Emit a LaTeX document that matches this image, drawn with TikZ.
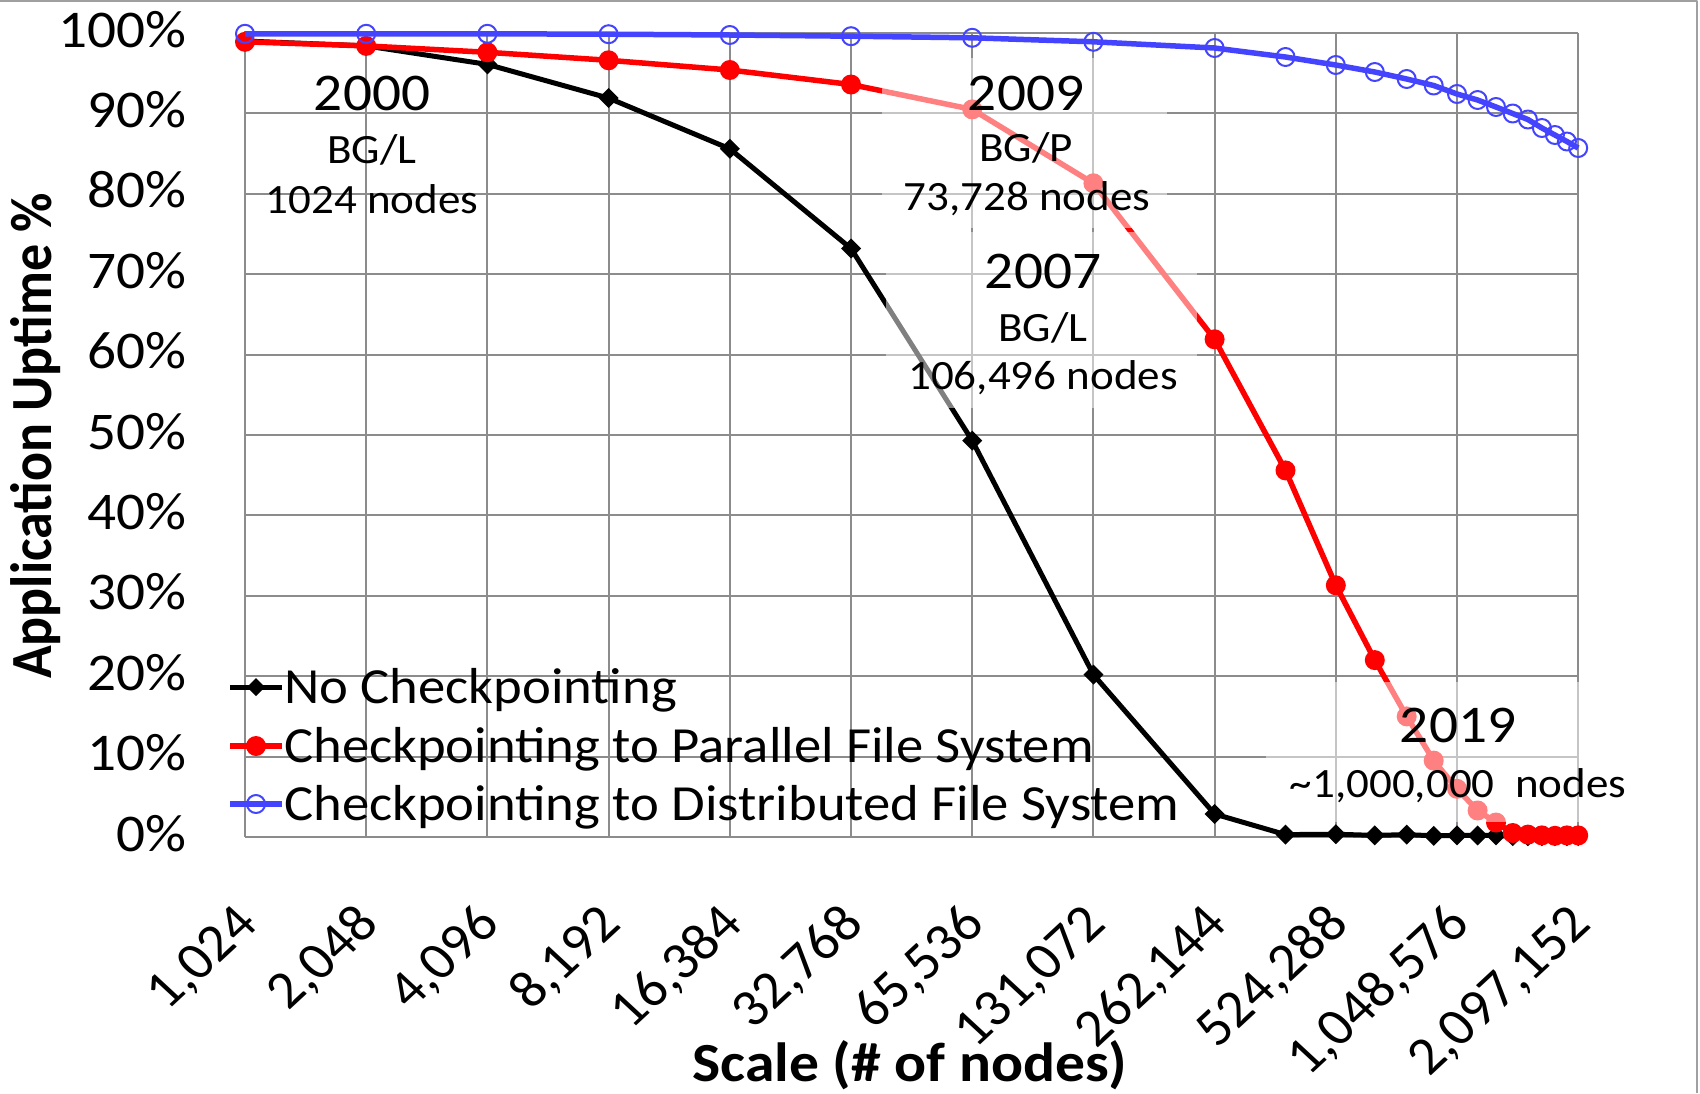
\documentclass[tikz,border=0pt]{standalone}
\usepackage{fontspec}
\setmainfont{Carlito}
\definecolor{xblue}{RGB}{68,68,255}
\definecolor{gridc}{RGB}{140,140,140}
\definecolor{framec}{RGB}{160,160,160}
\begin{document}
\begin{tikzpicture}[x=1pt,y=-1pt,line join=round,
  gridline/.style={draw=gridc,line width=2pt},
  txt/.style={inner sep=0pt,xscale=1.08,anchor=base},
  bigf/.style={font=\fontsize{53}{60}\selectfont},
  smallf/.style={font=\fontsize{41.7}{48}\selectfont},
  lgdf/.style={font=\fontsize{50.6}{58}\selectfont},
  tickf/.style={font=\fontsize{53}{60}\selectfont},
  titlef/.style={font=\fontsize{54}{60}\selectfont\bfseries},
  xtitlef/.style={font=\fontsize{55.2}{60}\selectfont\bfseries},
  blackser/.style={draw=black,line width=5pt},
  redser/.style={draw=red,line width=5.5pt},
  blueser/.style={draw=xblue,line width=5.5pt},
  veil/.style={fill=white,fill opacity=0.5}]
\useasboundingbox (0,0) rectangle (1700,1093);
\fill[white] (0,0) rectangle (1700,1093);
\draw[framec,line width=2pt] (0,1) -- (1697,1) -- (1697,1093);
% grid
\foreach \gy in {33,113.4,193.8,274.2,354.6,435,515.4,595.8,676.2,756.6,837}
  \draw[gridline] (245,\gy) -- (1578.2,\gy);
\foreach \gx in {245,366.2,487.4,608.6,729.8,851,972.2,1093.4,1214.6,1335.8,1457,1578.2}
  \draw[gridline] (\gx,33) -- (\gx,837);
% y tick labels
\foreach \gy/\lab in {33/100,113.4/90,193.8/80,274.2/70,354.6/60,435/50,515.4/40,595.8/30,676.2/20,756.6/10,837/0}
  \node[txt,tickf,anchor=base east] (yt\lab) at (187,\gy+14) {\lab\%};
% x tick labels
\foreach \gx/\lab [count=\i] in {245/{1,024},366.2/{2,048},487.4/{4,096},608.6/{8,192},729.8/{16,384},851/{32,768},972.2/{65,536},1093.4/{131,072},1214.6/{262,144},1335.8/{524,288},1457/{1,048,576},1578.2/{2,097,152}}
  \node[inner sep=0pt,xscale=1.08,rotate=45,anchor=base east,tickf] (xt\i) at (\gx+15,926) {\lab};
% axis titles
\node[inner sep=0pt,xscale=1.08,rotate=90,titlef] (ytitle) at (35.5,436) {Application Uptime \%};
\node[txt,xtitlef] (xtitle) at (910,1081) {Scale (\# of nodes)};
% black series
\draw[blackser] plot coordinates {(245,41) (366.2,45.9) (487.4,64.4) (608.6,98.1) (729.8,148.8) (851,248.5) (972.2,440.6) (1093.4,674.6) (1214.6,814) (1285.5,834.6) (1335.8,834.2) (1374.8,835.4) (1406.7,834.6) (1433.7,835.8) (1457,835.4) (1477.6,835.4) (1496,835.4) (1512.7,836.2) (1527.9,836.2) (1541.9,836.2) (1554.9,836.2) (1566.9,836.2) (1578.2,836.2)};
\foreach \x/\y in {245/41,366.2/45.9,487.4/64.4,608.6/98.1,729.8/148.8,851/248.5,972.2/440.6,1093.4/674.6,1214.6/814,1285.5/834.6,1335.8/834.2,1374.8/835.4,1406.7/834.6,1433.7/835.8,1457/835.4,1477.6/835.4,1496/835.4,1512.7/836.2,1527.9/836.2,1541.9/836.2,1554.9/836.2,1566.9/836.2,1578.2/836.2}
  \fill[black] (\x,\y) ++(-10,0) -- ++(10,-10) -- ++(10,10) -- ++(-10,10) -- cycle;
% red series
\draw[redser] plot coordinates {(245,41.8) (366.2,45.9) (487.4,52.3) (608.6,60.3) (729.8,70) (851,84.5) (972.2,109.4) (1093.4,183.3) (1214.6,339.3) (1285.5,470.4) (1335.8,585.3) (1374.8,660.1) (1406.7,716.4) (1433.7,760.6) (1457,788.8) (1477.6,810.5) (1496,822.5) (1512.7,833) (1527.9,834.6) (1541.9,835.4) (1554.9,835.8) (1566.9,835.4) (1578.2,835.4)};
\foreach \x/\y in {245/41.8,366.2/45.9,487.4/52.3,608.6/60.3,729.8/70,851/84.5,972.2/109.4,1093.4/183.3,1214.6/339.3,1285.5/470.4,1335.8/585.3,1374.8/660.1,1406.7/716.4,1433.7/760.6,1457/788.8,1477.6/810.5,1496/822.5,1512.7/833,1527.9/834.6,1541.9/835.4,1554.9/835.8,1566.9/835.4,1578.2/835.4}
  \fill[red] (\x,\y) circle[radius=10pt];
% blue series
\draw[blueser] plot coordinates {(245,33.8) (366.2,33.8) (487.4,33.8) (608.6,34.2) (729.8,35) (851,36.2) (972.2,37.8) (1093.4,41.8) (1214.6,48) (1285.5,57) (1335.8,65) (1374.8,72) (1406.7,79) (1433.7,85.5) (1457,94) (1477.6,100) (1496,107) (1512.7,113.5) (1527.9,119.5) (1541.9,128) (1554.9,135) (1566.9,141.5) (1578.2,148)};
\foreach \x/\y in {245/33.8,366.2/33.8,487.4/33.8,608.6/34.2,729.8/35,851/36.2,972.2/37.8,1093.4/41.8,1214.6/48,1285.5/57,1335.8/65,1374.8/72,1406.7/79,1433.7/85.5,1457/94,1477.6/100,1496/107,1512.7/113.5,1527.9/119.5,1541.9/128,1554.9/135,1566.9/141.5,1578.2/148}
  \draw[xblue,line width=2pt] (\x,\y) circle[radius=9pt];
% legend
\draw[blackser] (230,687) -- (282,687);
\fill[black] (256,687) ++(-9,0) -- ++(9,-9) -- ++(9,9) -- ++(-9,9) -- cycle;
\draw[redser] (230,746) -- (282,746);
\fill[red] (256,746) circle[radius=10pt];
\draw[blueser] (230,804) -- (282,804);
\draw[xblue,line width=2pt] (256,804) circle[radius=9pt];
\node[txt,lgdf,anchor=base west] (lg1) at (284,703.3) {No Checkpointing};
\node[txt,lgdf,anchor=base west] (lg2) at (284,762.3) {Checkpointing to Parallel File System};
\node[txt,lgdf,anchor=base west] (lg3) at (284,820.3) {Checkpointing to Distributed File System};
% translucent label backgrounds
\fill[veil] (882,58) rectangle (1167,228);
\fill[veil] (886,232) rectangle (1197,408);
\fill[veil] (1266,682) rectangle (1640,822);
% annotations
\node[txt,bigf] (y2000) at (372,110.7) {2000};
\node[txt,smallf] (m2000) at (372,163.3) {BG/L};
\node[txt,smallf] (n2000) at (372,213.3) {1024 nodes};
\node[txt,bigf] (y2009) at (1026,110) {2009};
\node[txt,smallf] (m2009) at (1026,161.7) {BG/P};
\node[txt,smallf] (n2009) at (1027,210) {73,728 nodes};
\node[txt,bigf] (y2007) at (1043,288.3) {2007};
\node[txt,smallf] (m2007) at (1043,341.7) {BG/L};
\node[txt,smallf] (n2007) at (1043,389.3) {106,496 nodes};
\node[txt,bigf] (y2019) at (1458,742.7) {2019};
\node[txt,smallf] (n2019) at (1458,797) {\textasciitilde 1,000,000\ \ nodes};
\end{tikzpicture}
\end{document}
